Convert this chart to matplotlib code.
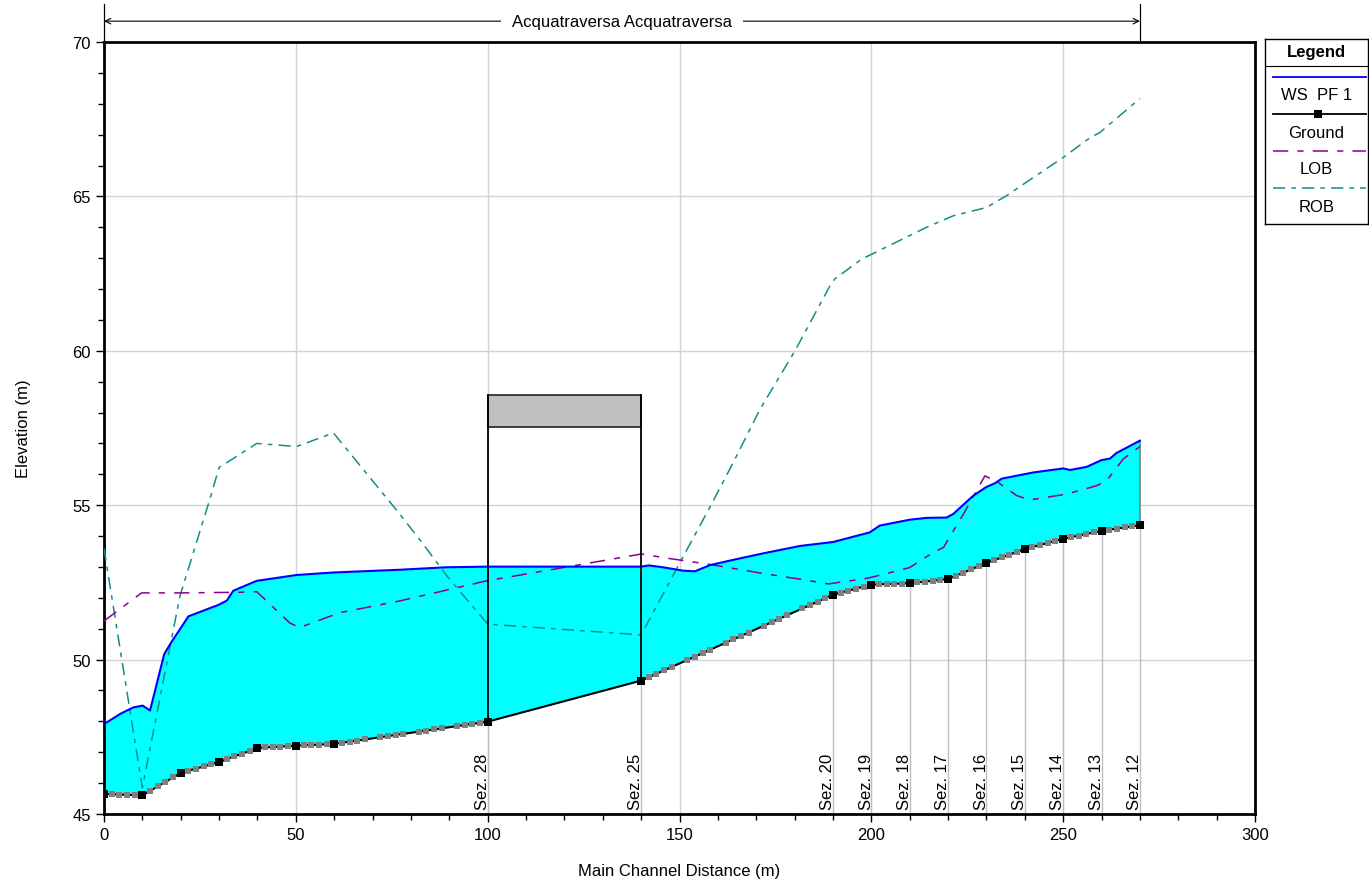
import numpy as np
import matplotlib
matplotlib.use("Agg")
import matplotlib.pyplot as plt
from matplotlib.transforms import blended_transform_factory

plt.rcParams['font.family'] = ['Liberation Sans', 'DejaVu Sans']

# ---------------- data ----------------
ws_x = [0, 4.2, 7.6, 10.1, 12.0, 15.7, 17.6, 22.0, 29.8, 32.0, 33.7, 39.8, 50.2, 59.7,
        77.1, 89.3, 100, 140, 142, 145.7, 150.9, 154, 158, 164, 171.8, 181.4, 190.1,
        194.4, 199.6, 202.2, 210, 214.4, 219.6, 221.3, 226.6, 230, 232.2, 234, 242.2,
        250, 251.8, 256.1, 260, 262.2, 263.9, 270]
ws_y = [47.91, 48.24, 48.45, 48.51, 48.35, 50.18, 50.57, 51.40, 51.77, 51.91, 52.23,
        52.55, 52.74, 52.82, 52.91, 52.99, 53.01, 53.01, 53.05, 52.99, 52.88, 52.86,
        53.06, 53.23, 53.44, 53.68, 53.81, 53.95, 54.12, 54.34, 54.53, 54.59, 54.60,
        54.71, 55.31, 55.59, 55.71, 55.86, 56.06, 56.19, 56.14, 56.24, 56.46, 56.51,
        56.69, 57.09]

ground_x = [0, 10, 20, 30, 40, 50, 60, 100, 140, 190, 200, 210, 220, 230, 240, 250, 260, 270]
ground_y = [45.65, 45.60, 46.33, 46.68, 47.14, 47.21, 47.27, 47.99, 49.32, 52.10, 52.43,
            52.47, 52.61, 53.13, 53.58, 53.91, 54.17, 54.35]

# interpolated cross sections (grey markers) stations
interp_x = [s for s in range(2, 270, 2) if s % 10 != 0 and not (100 < s < 140)]

lob_x = [0, 9.8, 20, 35.4, 39.8, 48.5, 51, 61.5, 77.1, 91, 99.7, 140.1, 147.5, 157,
         172.7, 182.7, 188.8, 198.8, 204.4, 210, 216.1, 218.8, 224, 229.6, 233, 237.9,
         241.3, 250.9, 258.7, 261.3, 265.7, 270]
lob_y = [51.25, 52.16, 52.16, 52.18, 52.2, 51.18, 51.04, 51.52, 51.9, 52.3, 52.55, 53.42,
         53.27, 53.1, 52.77, 52.58, 52.45, 52.63, 52.8, 52.98, 53.47, 53.63, 54.71, 55.95,
         55.74, 55.31, 55.17, 55.36, 55.63, 55.79, 56.5, 56.9]

rob_x = [0, 10, 19.8, 27.6, 30, 39.8, 50.2, 59.8, 77.1, 83.2, 89.3, 100, 140, 150.1,
         157.9, 164, 171, 180.1, 189.2, 190.5, 197.5, 214.4, 221.3, 230, 235.2, 242.2,
         250, 257, 259.6, 270]
rob_y = [53.6, 45.85, 52.06, 55.2, 56.22, 57.0, 56.9, 57.34, 54.71, 53.74, 52.72, 51.15,
         50.8, 53.14, 54.93, 56.38, 58.11, 60.0, 62.1, 62.33, 62.97, 64.0, 64.37, 64.64,
         65.02, 65.61, 66.26, 66.9, 67.07, 68.17]

section_x = [100, 140, 190, 200, 210, 220, 230, 240, 250, 260, 270]
section_labels = ["Sez. 28", "Sez. 25", "Sez. 20", "Sez. 19", "Sez. 18", "Sez. 17",
                  "Sez. 16", "Sez. 15", "Sez. 14", "Sez. 13", "Sez. 12"]

bridge_x = [100, 140]
deck_low, deck_high = 57.54, 58.57

reach_name = "Acquatraversa Acquatraversa"

# ---------------- colours ----------------
C_WS = '#0000FF'
C_FILL = '#00FFFF'
C_LOB = '#8B008B'
C_ROB = '#138C8C'
C_GREY = '#808080'
C_GRID = '#D3D3D3'

LOB_DASH = (0, (10, 6, 4, 6))
ROB_DASH = (0, (8, 4, 3, 4))

fig = plt.figure(figsize=(13.69, 8.87), dpi=100)
ax = fig.add_axes([104 / 1369, 72 / 887, 1151 / 1369, 772 / 887])

ax.set_xlim(0, 300)
ax.set_ylim(45, 70)
ax.set_xticks(np.arange(0, 301, 50))
ax.set_xticks(np.arange(0, 301, 10), minor=True)
ax.set_yticks(np.arange(45, 71, 5))
ax.set_yticks(np.arange(45, 71, 1), minor=True)
ax.grid(True, which='major', color=C_GRID, linewidth=1.0, zorder=0)
ax.set_axisbelow(True)
ax.tick_params(which='major', direction='out', length=6, width=1, labelsize=12, colors='black')
ax.tick_params(which='minor', direction='out', length=4, width=1)
for s in ax.spines.values():
    s.set_linewidth(2.0)
ax.set_xlabel("Main Channel Distance (m)", fontsize=12, labelpad=15)
ax.set_ylabel("Elevation (m)", fontsize=12, labelpad=30)

# water fill between ground and WS
fx = np.union1d(np.array(ws_x, float), np.array(ground_x, float))
ax.fill_between(fx, np.interp(fx, ground_x, ground_y), np.interp(fx, ws_x, ws_y),
                color=C_FILL, linewidth=0, zorder=2)
ax.plot([ws_x[-1], ws_x[-1]], [ground_y[-1], ws_y[-1]], color=C_GREY, lw=1.2, zorder=3)

# section reference lines
gy_sec = np.interp(section_x, ground_x, ground_y)
for sx, gy, lab in zip(section_x, gy_sec, section_labels):
    ax.plot([sx, sx], [45, gy], color='#BEBEBE', lw=1.0, zorder=1.5)
    ax.text(sx + 0.6, 45.15, lab, rotation=90, ha='right', va='bottom', fontsize=12, zorder=6)

# bridge
ax.fill_between(bridge_x, [deck_low] * 2, [deck_high] * 2, color='#C0C0C0', zorder=4, linewidth=0)
ax.plot([bridge_x[0], bridge_x[1], bridge_x[1], bridge_x[0], bridge_x[0]],
        [deck_low, deck_low, deck_high, deck_high, deck_low], color='#222222', lw=1.2, zorder=5)
gb = np.interp(bridge_x, ground_x, ground_y)
for bx, g in zip(bridge_x, gb):
    ax.plot([bx, bx], [g, deck_high], color='black', lw=1.3, zorder=5)

# bank lines
ax.plot(rob_x, rob_y, color=C_ROB, lw=1.1, linestyle=ROB_DASH, zorder=3)
ax.plot(lob_x, lob_y, color=C_LOB, lw=1.1, linestyle=LOB_DASH, zorder=3)

# water surface
ax.plot(ws_x, ws_y, color=C_WS, lw=1.5, zorder=4)

# ground
ax.plot(ground_x, ground_y, color='black', lw=1.5, zorder=5)
ax.plot(interp_x, np.interp(interp_x, ground_x, ground_y), linestyle='none', marker='s',
        markersize=4.7, color=C_GREY, markeredgewidth=0, zorder=6)
ax.plot(ground_x, ground_y, linestyle='none', marker='s', markersize=5.2, color='black',
        markeredgewidth=0, zorder=7)

# reach annotation above the plot
tr = blended_transform_factory(ax.transData, ax.transAxes)
for xx in (ground_x[0], ground_x[-1]):
    ax.plot([xx, xx], [1.0, 1.049], transform=tr, color='black', lw=0.9, clip_on=False)
ax.annotate('', xy=(ground_x[0], 1.027), xytext=(ground_x[-1], 1.027),
            xycoords=tr, textcoords=tr,
            arrowprops=dict(arrowstyle='<->', color='black', lw=0.8,
                            shrinkA=0, shrinkB=0, mutation_scale=10))
ax.text((ground_x[0] + ground_x[-1]) / 2, 1.027, reach_name, transform=tr, ha='center',
        va='center', fontsize=12,
        bbox=dict(facecolor='white', edgecolor='none', pad=8))

# legend box (px-like coordinates inside its own axes)
lax = fig.add_axes([1265 / 1369, (887 - 225) / 887, 103 / 1369, 185 / 887])
lax.set_xlim(0, 103)
lax.set_ylim(185, 0)
lax.set_xticks([])
lax.set_yticks([])
for s in lax.spines.values():
    s.set_linewidth(1.0)
lax.text(51.5, 13, "Legend", ha='center', va='center', fontsize=12, fontweight='bold')
lax.plot([0, 103], [27, 27], color='black', lw=0.8)
rows = [("WS  PF 1", dict(color=C_WS, lw=1.3)),
        ("Ground", dict(color='black', lw=1.3)),
        ("LOB", dict(color=C_LOB, lw=1.1, linestyle=LOB_DASH)),
        ("ROB", dict(color=C_ROB, lw=1.1, linestyle=ROB_DASH))]
for i, (lab, kw) in enumerate(rows):
    yl = 38 + i * 37
    lax.plot([8, 101], [yl, yl], **kw)
    if lab == "Ground":
        lax.plot([53], [yl], marker='s', markersize=5.2, color='black', markeredgewidth=0)
    lax.text(51.5, yl + 18, lab, ha='center', va='center', fontsize=12)

fig.savefig("out.png", dpi=100)
